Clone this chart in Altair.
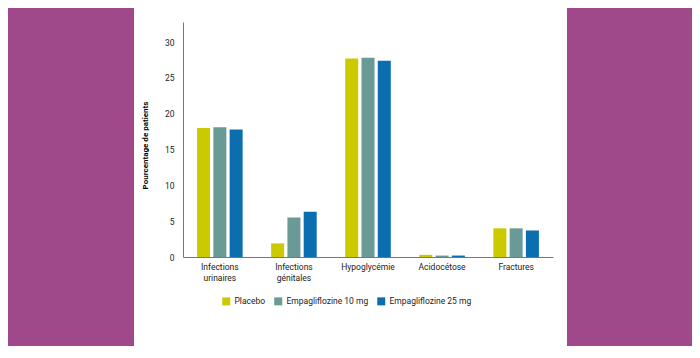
import altair as alt
import pandas as pd

categories = ["Infections urinaires", "Infections génitales", "Hypoglycémie", "Acidocétose", "Fractures"]
series = ["Placebo", "Empagliflozine 10 mg", "Empagliflozine 25 mg"]
placebo = [18.0, 1.9, 27.7, 0.3, 4.0]
empa10 = [18.1, 5.5, 27.8, 0.2, 4.0]
empa25 = [17.8, 6.3, 27.4, 0.2, 3.7]
colors = ["#CBCA00", "#6A9A96", "#0A6EB0"]
y_ticks = [0, 5, 10, 15, 20, 25, 30]

rows = []
for name, vals in zip(series, [placebo, empa10, empa25]):
    for c, v in zip(categories, vals):
        rows.append({"cat": c, "serie": name, "val": v})
df = pd.DataFrame(rows)

FONT = "Roboto"
FS = 8.5
W, H = 370, 235
PL, PT = 175, 14
TOTAL_W, TOTAL_H = 684, 338

panel = alt.Chart(pd.DataFrame({"k": [0]})).mark_rect(color="white").encode(
    x=alt.value(126 - PL), x2=alt.value(559 - PL),
    y=alt.value(-PT), y2=alt.value(TOTAL_H - PT)
)

bars = alt.Chart(df).mark_bar().encode(
    x=alt.X("cat:N", sort=categories, title=None,
            scale=alt.Scale(paddingInner=0.385, paddingOuter=0.19),
            axis=alt.Axis(labelAngle=0, ticks=False, domainColor="#777777", zindex=2,
                          labelColor="#222222", labelFont=FONT, labelFontSize=FS,
                          labelPadding=5, labelLineHeight=11, labelBaseline="top",
                          labelExpr="indexof(datum.value, 'Infections ') == 0 ? ['Infections', substring(datum.value, 11)] : datum.value")),
    xOffset=alt.XOffset("serie:N", sort=series, scale=alt.Scale(paddingInner=0.2)),
    y=alt.Y("val:Q", scale=alt.Scale(domain=[0, 32.8], nice=False),
            axis=alt.Axis(values=y_ticks, grid=False, ticks=False, domainColor="#777777", zindex=2,
                          labelColor="#222222", labelFont=FONT, labelFontSize=FS,
                          labelPadding=9, title="Pourcentage de patients",
                          titleFont=FONT, titleFontSize=8, titleFontWeight="bold",
                          titleColor="#000000", titleX=-38, titleY=123,
                          titleAngle=270, titleAlign="center", titleBaseline="middle")),
    color=alt.Color("serie:N", sort=series,
                    scale=alt.Scale(domain=series, range=colors),
                    legend=alt.Legend(title=None, orient="none", legendX=39, legendY=275,
                                      direction="horizontal", symbolType="square",
                                      symbolSize=64, symbolStrokeWidth=0, zindex=2,
                                      labelFont=FONT, labelFontSize=FS, labelColor="#222222",
                                      labelOffset=4, columnPadding=8)),
)

chart = alt.layer(panel, bars).properties(
    width=W, height=H,
    background="#A0498A",
    padding={"left": PL, "top": PT, "right": TOTAL_W - PL - W, "bottom": TOTAL_H - PT - H},
    autosize=alt.AutoSizeParams(type="none"),
).configure_view(stroke=None)

chart.save("out.html", embed_options={"renderer": "svg", "actions": False})
